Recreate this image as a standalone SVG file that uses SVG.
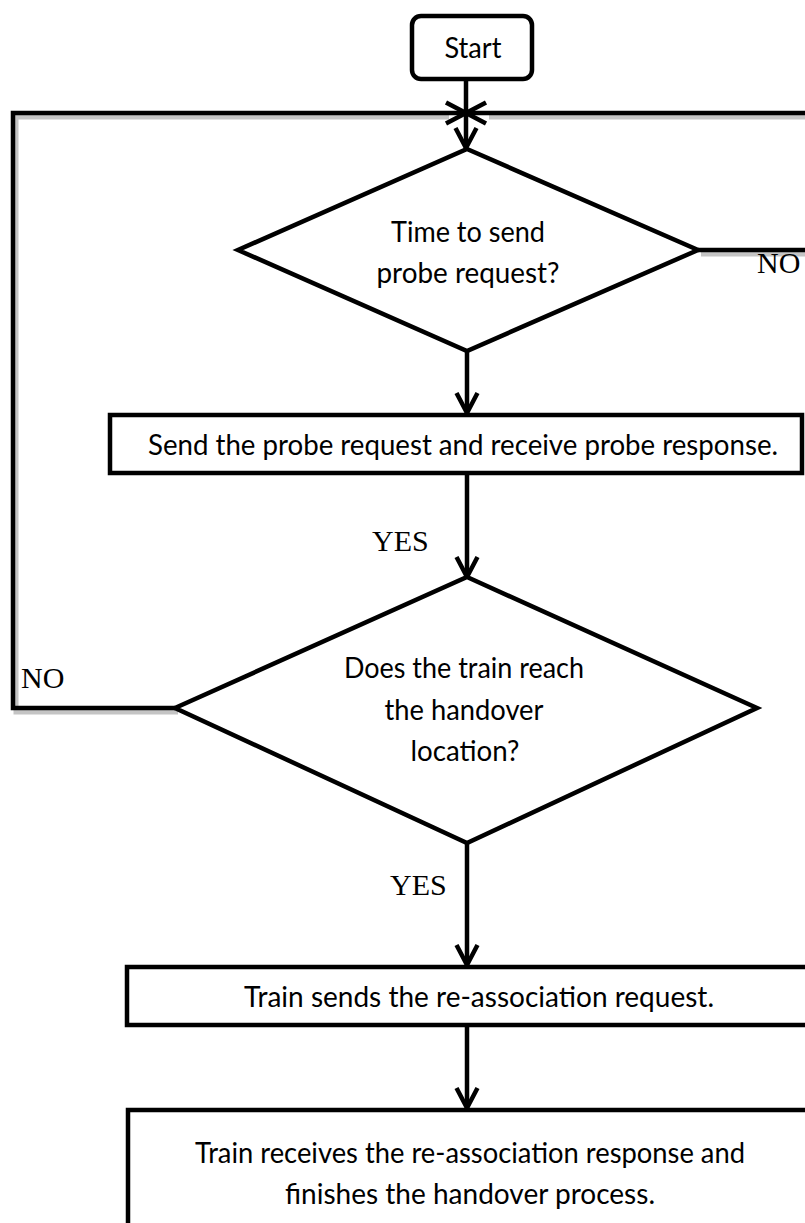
<svg xmlns="http://www.w3.org/2000/svg" width="805" height="1223" viewBox="0 0 805 1223">
  <style>
    .shape { fill: #ffffff; stroke: #000000; stroke-width: 4.5; stroke-linejoin: miter; }
    .line { fill: none; stroke: #000000; stroke-width: 4.5; stroke-linejoin: miter; }
    .shadow { fill: none; stroke: #c4c4c4; stroke-width: 5; stroke-linejoin: miter; }
    .label { font-family: Lato, "Liberation Sans", sans-serif; font-size: 29.5px; fill: #000000; text-anchor: middle; }
    .wide { font-size: 28px; }
    .branch { font-family: "Liberation Serif", serif; font-size: 30px; fill: #000000; }
  </style>
  <defs>
    <marker id="arrow" viewBox="0 0 24 24" markerUnits="userSpaceOnUse" markerWidth="24" markerHeight="24" refX="22" refY="12" orient="auto" overflow="visible">
      <path d="M2,1.5 L22,12 L2,22.5" fill="none" stroke="#000000" stroke-width="4.5"/>
    </marker>
  </defs>
  <rect width="805" height="1223" fill="#ffffff"/>

  <!-- connectors -->
  <g id="connectors">
    <!-- soft shadows under the loop-back lines -->
    <g transform="translate(3,4)">
      <path class="shadow" d="M175,708 H13 V113 H446"/>
      <path class="shadow" d="M698,250 H812 V113 H486"/>
    </g>
    <!-- NO branch of the handover check loops back to the top -->
    <path class="line" d="M175,708 H13 V113 H466" marker-end="url(#arrow)"/>
    <!-- NO branch of the probe timer loops back to the top -->
    <path class="line" d="M698,250 H812 V113 H466" marker-end="url(#arrow)"/>
    <!-- main flow -->
    <path class="line" d="M466,79 V148" marker-end="url(#arrow)"/>
    <path class="line" d="M467,351 V413" marker-end="url(#arrow)"/>
    <path class="line" d="M467,473 V577" marker-end="url(#arrow)"/>
    <path class="line" d="M467,843 V965" marker-end="url(#arrow)"/>
    <path class="line" d="M467,1025 V1108" marker-end="url(#arrow)"/>
    <text class="branch" x="757" y="273">NO</text>
    <text class="branch" x="21" y="688">NO</text>
    <text class="branch" x="372" y="551">YES</text>
    <text class="branch" x="390" y="895">YES</text>
  </g>

  <g id="start">
    <rect class="shape" x="412" y="16" width="120" height="63" rx="9"/>
    <text class="label" x="473" y="58" textLength="57" lengthAdjust="spacingAndGlyphs">Start</text>
  </g>

  <g id="probe-timer">
    <polygon class="shape" points="467,149 698,250 467,351 238,250"/>
    <text class="label" x="468" y="242" textLength="154" lengthAdjust="spacingAndGlyphs">Time to send</text>
    <text class="label" x="468" y="283" textLength="183" lengthAdjust="spacingAndGlyphs">probe request?</text>
  </g>

  <g id="probe-exchange">
    <rect class="shape" x="110" y="415" width="692" height="58"/>
    <text class="label wide" x="463" y="455" textLength="630" lengthAdjust="spacingAndGlyphs">Send the probe request and receive probe response.</text>
  </g>

  <g id="handover-check">
    <polygon class="shape" points="467,577 757,708 467,843 175,708"/>
    <text class="label" x="464" y="678" textLength="240" lengthAdjust="spacingAndGlyphs">Does the train reach</text>
    <text class="label" x="464" y="720" textLength="159" lengthAdjust="spacingAndGlyphs">the handover</text>
    <text class="label" x="465" y="761" textLength="109" lengthAdjust="spacingAndGlyphs">location?</text>
  </g>

  <g id="reassoc-request">
    <rect class="shape" x="127" y="967" width="700" height="58"/>
    <text class="label" x="479" y="1007" textLength="470" lengthAdjust="spacingAndGlyphs">Train sends the re-association request.</text>
  </g>

  <g id="reassoc-response">
    <rect class="shape" x="128" y="1110" width="700" height="140"/>
    <text class="label" x="470" y="1163" textLength="550" lengthAdjust="spacingAndGlyphs">Train receives the re-association response and</text>
    <text class="label" x="470" y="1204" textLength="370" lengthAdjust="spacingAndGlyphs">finishes the handover process.</text>
  </g>
</svg>
